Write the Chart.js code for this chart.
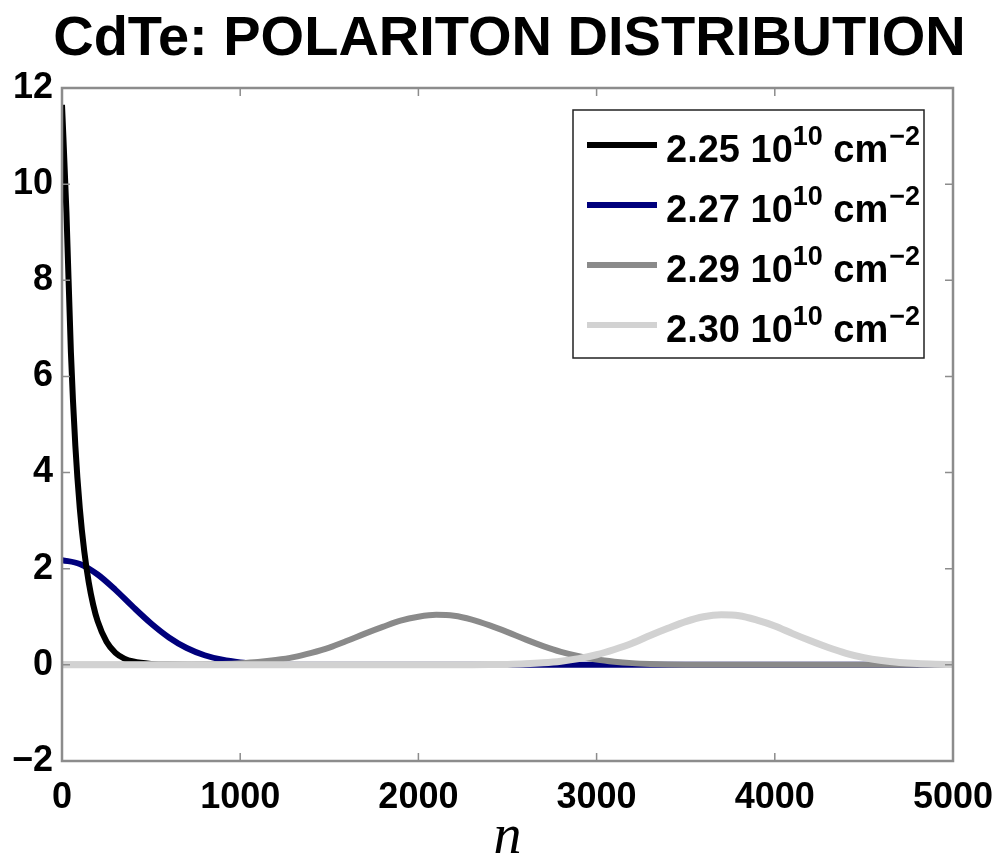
<!DOCTYPE html>
<html>
<head>
<meta charset="utf-8">
<script src="https://cdn.jsdelivr.net/npm/chart.js@4.4.1/dist/chart.umd.min.js"></script>
<style>
  html, body { margin: 0; padding: 0; background: #fff; }
  #wrap { width: 1004px; height: 860px; position: relative; }
</style>
</head>
<body>
<div id="wrap"><canvas id="myChart"></canvas></div>
<script>
//
// Data
//

var titleText = 'CdTe: POLARITON DISTRIBUTION';
var xTitle = 'n';

var xTicks = [0, 1000, 2000, 3000, 4000, 5000];
var yTicks = [-2, 0, 2, 4, 6, 8, 10, 12];
var yTickLabels = ['\u22122', '0', '2', '4', '6', '8', '10', '12'];

// legend: value, exponent, unit, unit exponent
var seriesValues = ['2.25', '2.27', '2.29', '2.30'];
var seriesExp = '10';
var seriesUnit = 'cm';
var seriesUnitExp = '\u22122';

var seriesColors = ['#000000', '#00007c', '#8a8a8a', '#d2d2d2'];

// 2.25 10^10 cm^-2
var nBlack = [0, 25, 50, 75, 100, 125, 150, 175, 200, 250, 300, 350, 400, 500, 600, 800, 1000];
var yBlack = [11.65, 9.4, 6.5, 4.55, 3.25, 2.36, 1.72, 1.25, 0.91, 0.48, 0.25, 0.13, 0.07, 0.02, 0.005, 0.001, 0];

// 2.27 10^10 cm^-2
var nBlue = [0, 100, 200, 300, 400, 500, 600, 700, 800, 900, 1000, 1100, 1200, 1300, 1400, 1600, 5000];
var yBlue = [2.18, 2.10, 1.88, 1.56, 1.20, 0.86, 0.57, 0.35, 0.20, 0.106, 0.052, 0.024, 0.01, 0.004, 0.001, 0, 0];

// 2.29 10^10 cm^-2
var nGray = [0, 600, 700, 800, 900, 1000, 1100, 1200, 1300, 1400, 1500, 1600, 1700, 1800, 1900, 2000,
  2100, 2200, 2300, 2400, 2500, 2600, 2700, 2800, 2900, 3000, 3100, 3200, 3300, 3400, 3500, 3600, 3800, 5000];
var yGray = [0, 0, 0.003, 0.007, 0.016, 0.032, 0.058, 0.10, 0.16, 0.25, 0.36, 0.50, 0.65, 0.79, 0.92, 1.00,
  1.04, 1.02, 0.94, 0.82, 0.68, 0.53, 0.39, 0.27, 0.18, 0.11, 0.065, 0.036, 0.019, 0.009, 0.004, 0.002, 0, 0];

// 2.30 10^10 cm^-2
var nLight = [0, 2200, 2300, 2400, 2500, 2600, 2700, 2800, 2900, 3000, 3100, 3200, 3300, 3400, 3500, 3600,
  3700, 3800, 3900, 4000, 4100, 4200, 4300, 4400, 4500, 4600, 4700, 4800, 4900, 5000];
var yLight = [0, 0, 0.002, 0.005, 0.010, 0.021, 0.042, 0.076, 0.13, 0.21, 0.32, 0.45, 0.61, 0.76, 0.90, 1.00,
  1.04, 1.02, 0.93, 0.81, 0.65, 0.50, 0.36, 0.24, 0.15, 0.09, 0.05, 0.026, 0.013, 0.006];

//
// Helpers
//

var frameColor = '#8c8c8c';
var sansFamily = '"Liberation Sans", Arial, Helvetica, sans-serif';

function toPoints(xs, ys) {
    return xs.map(function (x, i) { return { x: x, y: ys[i] }; });
}

function makeDataset(label, xs, ys, color, width, order) {
    return {
        label: label,
        data: toPoints(xs, ys),
        borderColor: color,
        backgroundColor: color,
        borderWidth: width,
        pointRadius: 0,
        fill: false,
        cubicInterpolationMode: 'monotone',
        order: order
    };
}

// keep the label overflow from shrinking the plot area
function noScalePadding(scale) {
    scale.paddingLeft = 0;
    scale.paddingRight = 0;
    scale.paddingTop = 0;
    scale.paddingBottom = 0;
}

/**
 * Frame, inward ticks on all four sides, title, x label and legend
 */
var decorPlugin = {
    id: 'decor',
    afterDatasetsDraw: function (chart) {
        var ctx = chart.ctx;
        var a = chart.chartArea;
        var xs = chart.scales.x;
        var ys = chart.scales.y;
        var tl = 8;

        ctx.save();
        ctx.strokeStyle = frameColor;
        ctx.lineWidth = 2.5;
        ctx.strokeRect(a.left, a.top, a.right - a.left, a.bottom - a.top);

        ctx.lineWidth = 1.5;
        ctx.beginPath();
        xTicks.forEach(function (v) {
            var px = xs.getPixelForValue(v);
            ctx.moveTo(px, a.bottom); ctx.lineTo(px, a.bottom - tl);
            ctx.moveTo(px, a.top); ctx.lineTo(px, a.top + tl);
        });
        yTicks.forEach(function (v) {
            var py = ys.getPixelForValue(v);
            ctx.moveTo(a.left, py); ctx.lineTo(a.left + tl, py);
            ctx.moveTo(a.right, py); ctx.lineTo(a.right - tl, py);
        });
        ctx.stroke();
        ctx.restore();
    },
    afterDraw: function (chart) {
        var ctx = chart.ctx;
        var a = chart.chartArea;
        var cx = (a.left + a.right) / 2;

        ctx.save();
        ctx.fillStyle = '#000';
        ctx.textBaseline = 'alphabetic';

        // title
        ctx.textAlign = 'center';
        ctx.font = 'bold 56px ' + sansFamily;
        ctx.fillText(titleText, cx + 2, 55);

        // x axis label
        ctx.font = 'italic 56px "Liberation Serif", "Times New Roman", serif';
        ctx.fillText(xTitle, cx, 853);

        // legend box
        var box = { left: 573, top: 110, right: 924, bottom: 358 };
        ctx.fillStyle = '#fff';
        ctx.fillRect(box.left, box.top, box.right - box.left, box.bottom - box.top);
        ctx.strokeStyle = '#222';
        ctx.lineWidth = 1.5;
        ctx.strokeRect(box.left, box.top, box.right - box.left, box.bottom - box.top);

        ctx.textAlign = 'left';
        var mainFont = 'bold 38px ' + sansFamily;
        var supFont = 'bold 27px ' + sansFamily;

        seriesValues.forEach(function (val, i) {
            var base = 162 + i * 60;
            var lineY = base - 17;

            ctx.strokeStyle = seriesColors[i];
            ctx.lineWidth = 6;
            ctx.beginPath();
            ctx.moveTo(587, lineY);
            ctx.lineTo(657, lineY);
            ctx.stroke();

            ctx.fillStyle = '#000';
            var x = 666;
            ctx.font = mainFont;
            ctx.fillText(val + ' 10', x, base);
            x += ctx.measureText(val + ' 10').width;
            ctx.font = supFont;
            ctx.fillText(seriesExp, x, base - 17);
            x += ctx.measureText(seriesExp).width;
            ctx.font = mainFont;
            ctx.fillText(' ' + seriesUnit, x, base);
            x += ctx.measureText(' ' + seriesUnit).width;
            ctx.font = supFont;
            ctx.fillText(seriesUnitExp, x + 1, base - 17);
        });

        ctx.restore();
    }
};

//
// Chart
//

var ctx = document.querySelector('#myChart').getContext('2d');
var chart = new Chart(ctx, {
    type: 'line',
    data: {
        datasets: [
            makeDataset('2.25', nBlack, yBlack, seriesColors[0], 6, 3),
            makeDataset('2.27', nBlue, yBlue, seriesColors[1], 6, 4),
            makeDataset('2.29', nGray, yGray, seriesColors[2], 6, 2),
            makeDataset('2.30', nLight, yLight, seriesColors[3], 7, 1)
        ]
    },
    options: {
        responsive: true,
        maintainAspectRatio: false,
        animation: false,
        layout: { padding: { left: 0, right: 51, top: 88, bottom: 0 } },
        plugins: {
            legend: { display: false },
            title: { display: false },
            tooltip: { enabled: false }
        },
        scales: {
            x: {
                type: 'linear',
                min: 0,
                max: 5000,
                grid: { display: false, drawTicks: false, tickLength: 0 },
                border: { display: false },
                afterFit: function (scale) {
                    scale.height = 99;
                    noScalePadding(scale);
                },
                afterBuildTicks: function (scale) {
                    scale.ticks = xTicks.map(function (v) { return { value: v }; });
                },
                ticks: {
                    color: '#000',
                    padding: 15,
                    maxRotation: 0,
                    autoSkip: false,
                    font: { family: sansFamily, size: 36, weight: 'bold' },
                    callback: function (v) { return String(v); }
                }
            },
            y: {
                min: -2,
                max: 12,
                grid: { display: false, drawTicks: false, tickLength: 0 },
                border: { display: false },
                afterFit: function (scale) {
                    scale.width = 62;
                    noScalePadding(scale);
                },
                afterBuildTicks: function (scale) {
                    scale.ticks = yTicks.map(function (v) { return { value: v }; });
                },
                ticks: {
                    color: '#000',
                    padding: 9,
                    autoSkip: false,
                    font: { family: sansFamily, size: 36, weight: 'bold' },
                    callback: function (v) { return yTickLabels[yTicks.indexOf(v)]; }
                }
            }
        }
    },
    plugins: [decorPlugin]
});
</script>
</body>
</html>
